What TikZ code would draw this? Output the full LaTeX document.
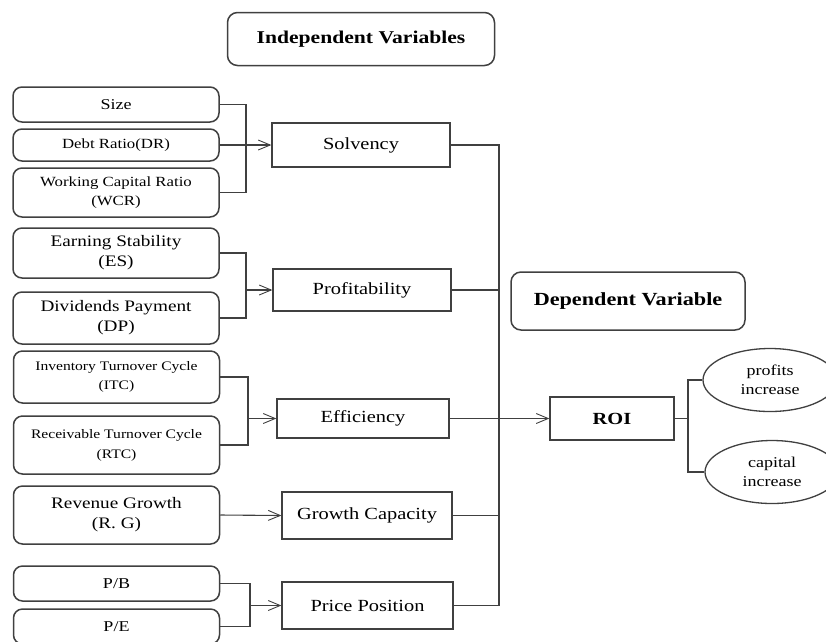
\documentclass[tikz,border=0pt]{standalone}
\usepackage{fontspec}
\setmainfont{Liberation Serif}[FakeStretch=1.2]
\usepackage{tikz}
\usetikzlibrary{positioning}
\usetikzlibrary{shapes.geometric,arrows.meta}

\begin{document}
\begin{tikzpicture}[x=1pt, y=-1pt, line width=1.1pt, color=black!75,
      >={Straight Barb[length=12pt,width=10pt,line width=0.9pt]},
      head/.style={draw, rounded corners=10pt, fill=white, line width=1.5pt, inner sep=0pt, text=black, font=\fontsize{18}{22}\selectfont\bfseries},
      factor/.style={draw, rounded corners=9pt, fill=white, line width=1.5pt, minimum width=206pt, inner sep=0pt, align=center, text=black, font=\fontsize{15}{19}\selectfont},
      ratio/.style={draw, fill=white, line width=1.3pt, inner sep=0pt, text=black, font=\fontsize{17}{20}\selectfont},
      oval/.style={ellipse, draw, fill=white, line width=1.3pt, minimum width=134pt, minimum height=63pt, inner sep=0pt, align=center, text=black, font=\fontsize{15}{19}\selectfont}]
      \useasboundingbox (0,0) rectangle (826,641);
      \clip (0,0) rectangle (826,641);
      \node[head, minimum width=267pt, minimum height=53pt] (indep) at (361,39) {Independent Variables};
      \node[head, minimum width=234pt, minimum height=58pt, font=\fontsize{18.5}{22}\selectfont\bfseries] (dep) at (628,301) {Dependent Variable};

      \node[factor, minimum height=35pt] (size) at (116,104.5) {Size};
      \node[factor, minimum height=32pt, font=\fontsize{14}{19}\selectfont] (dr) at (116,145) {Debt Ratio(DR)};
      \node[factor, minimum height=49pt, font=\fontsize{14}{19}\selectfont] (wcr) at (116,192.5) {Working Capital Ratio\\(WCR)};
      \node[factor, minimum height=50pt, font=\fontsize{16}{20}\selectfont] (es) at (116,253) {Earning Stability\\(ES)};
      \node[factor, minimum height=52pt, font=\fontsize{16}{20}\selectfont] (dp) at (116,318) {Dividends Payment\\(DP)};
      \node[factor, minimum height=52pt, font=\fontsize{13}{19}\selectfont] (itc) at (116.5,377) {Inventory Turnover Cycle\\(ITC)};
      \node[factor, minimum height=58pt, font=\fontsize{13}{20}\selectfont] (rtc) at (116.5,445) {Receivable Turnover Cycle\\(RTC)};
      \node[factor, minimum height=58pt, font=\fontsize{16}{20}\selectfont] (rg) at (116.5,515) {Revenue Growth\\(R. G)};
      \node[factor, minimum height=35pt] (pb) at (116.5,583.5) {P/B};
      \node[factor, minimum height=35pt] (pe) at (116.5,626.5) {P/E};

      \node[ratio, minimum width=178pt, minimum height=44pt] (solv) at (361,145) {Solvency};
      \node[ratio, minimum width=178pt, minimum height=42pt] (prof) at (362,290) {Profitability};
      \node[ratio, minimum width=172pt, minimum height=39pt] (eff) at (363,418.5) {Efficiency};
      \node[ratio, minimum width=170pt, minimum height=47pt] (grow) at (367,515.5) {Growth Capacity};
      \node[ratio, minimum width=171pt, minimum height=47pt] (price) at (367.5,605.5) {Price Position};

      \node[ratio, minimum width=124pt, minimum height=43pt, font=\fontsize{17}{20}\selectfont\bfseries] (roi) at (612,418.5) {ROI};
      \node[oval] (pinc) at (770,380) {profits\\increase};
      \node[oval] (cinc) at (772,472) {capital\\increase};

      \coordinate (j1) at (246,145);
      \coordinate (j2) at (246,290);
      \coordinate (j3) at (248,418.5);
      \coordinate (j4) at (250,605.5);
      \coordinate (bus) at (499,605.5);
      \coordinate (fork) at (688,418.5);

      \draw (size.east) -| (j1) |- (wcr.east);
      \draw[->] (dr.east) -- (solv.west);
      \draw (es.east) -| (j2) |- (dp.east);
      \draw[->] (j2) -- (prof.west);
      \draw (itc.east) -| (j3) |- (rtc.east);
      \draw[->] (j3) -- (eff.west);
      \draw[->] (rg.east) -- (grow.west);
      \draw (pb.east) -| (j4) |- (pe.east);
      \draw[->] (j4) -- (price.west);

      \draw (solv.east) -| (bus) -- (price.east);
      \draw (prof.east) -- (prof.east -| bus);
      \draw (grow.east) -- (grow.east -| bus);
      \draw[->] (eff.east) -- (roi.west);
      \draw (roi.east) -- (fork);
      \draw (pinc.west) -| (fork) |- (cinc.west);
\end{tikzpicture}
\end{document}
